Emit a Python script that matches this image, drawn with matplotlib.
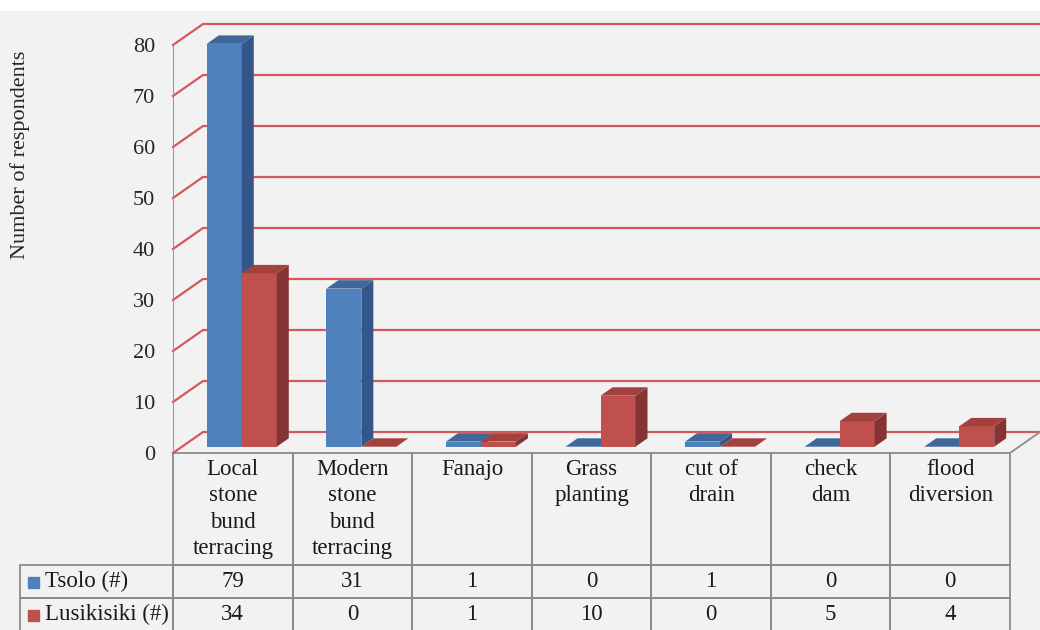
import matplotlib
matplotlib.use("Agg")
import matplotlib.pyplot as plt
from matplotlib.patches import Polygon, Rectangle

plt.rcParams['font.family'] = ['Liberation Serif', 'DejaVu Sans']

# data
categories = ["Local\nstone\nbund\nterracing", "Modern\nstone\nbund\nterracing",
              "Fanajo", "Grass\nplanting", "cut of\ndrain", "check\ndam",
              "flood\ndiversion"]
series_names = ["Tsolo (#)", "Lusikisiki (#)"]
tsolo = [79, 31, 1, 0, 1, 0, 0]
lusikisiki = [34, 0, 1, 10, 0, 5, 4]
yticks = [0, 10, 20, 30, 40, 50, 60, 70, 80]

front_colors = ["#4f81bd", "#c0504d"]
side_colors = ["#34568a", "#843432"]
top_colors = ["#3f679a", "#a3413e"]
grid_color = "#d4585c"
line_gray = "#8c8c8c"
bg = "#f2f2f2"

W, H = 1040, 630
fig = plt.figure(figsize=(W / 100, H / 100), dpi=100, facecolor=bg)
fig.patches.append(Rectangle((0, 1 - 10 / H), 1, 10 / H, transform=fig.transFigure,
                             color="white", zorder=0))

# layout (pixels)
ax_l, ax_r, ax_t, ax_b = 173, 1040, 23, 453
plot_r = 1010
top80 = 45
ax = fig.add_axes([ax_l / W, 1 - ax_b / H, (ax_r - ax_l) / W, (ax_b - ax_t) / H])
ax.patch.set_visible(False)
for s in ax.spines.values():
    s.set_visible(False)

n = len(categories)
cat_px = (plot_r - ax_l) / n
px_unit = (ax_b - top80) / 80
xmax = -0.5 + (ax_r - ax_l) / cat_px
ymax = (ax_b - ax_t) / px_unit
ax.set_xlim(-0.5, xmax)
ax.set_ylim(0, ymax)
depth_x = 30 / cat_px
depth_y = 21 / px_unit

# back wall gridlines
for v in yticks:
    ax.plot([-0.5, -0.5 + depth_x, xmax], [v, v + depth_y, v + depth_y],
            color=grid_color, lw=1.6, clip_on=False, zorder=1)
ax.plot([-0.5, -0.5], [0, 80], color=line_gray, lw=1.3, zorder=2)
ax.plot([n - 0.5, n - 0.5 + depth_x], [0, depth_y], color=line_gray, lw=1.3, zorder=2)

# 3d bars
bw = 35 / cat_px
f0, f1 = 0.3, 0.7
offx, offy = f0 * depth_x, f0 * depth_y
ddx, ddy = (f1 - f0) * depth_x, (f1 - f0) * depth_y
for j, vals in enumerate([tsolo, lusikisiki]):
    z = 3 + j
    xs = [i - bw + j * bw + offx for i in range(n)]
    ax.bar(xs, vals, width=bw, bottom=offy, align='edge', color=front_colors[j],
           zorder=z, linewidth=0)
    for x0, v in zip(xs, vals):
        x1 = x0 + bw
        b = offy
        side = Polygon([(x1, b), (x1 + ddx, b + ddy), (x1 + ddx, b + v + ddy), (x1, b + v)],
                       closed=True, facecolor=side_colors[j], edgecolor='none', zorder=z)
        top = Polygon([(x0, b + v), (x1, b + v), (x1 + ddx, b + v + ddy), (x0 + ddx, b + v + ddy)],
                      closed=True, facecolor=top_colors[j], edgecolor='none', zorder=z)
        ax.add_patch(side)
        ax.add_patch(top)

ax.set_xticks([])
ax.set_yticks(yticks)
ax.tick_params(axis='y', length=0, pad=13, labelsize=16, labelcolor="#262626")

fig.text(20 / W, 1 - 155 / H, "Number of respondents", rotation=90,
         ha='center', va='center', fontsize=16, color="#262626")

# data table: first column holds the series names, top-left cell left open
tbl_l = 20
lbl_px = ax_l - tbl_l
head_px = 112
row_px = 33
tbl_h = head_px + 2 * row_px
col_labels = [""] + [c + "\n" * (3 - c.count("\n")) for c in categories]
cell_text = [[series_names[0]] + [str(v) for v in tsolo],
             [series_names[1]] + [str(v) for v in lusikisiki]]
bbox = [(tbl_l - ax_l) / (ax_r - ax_l), -tbl_h / (ax_b - ax_t),
        (plot_r - tbl_l) / (ax_r - ax_l), tbl_h / (ax_b - ax_t)]
tbl = ax.table(cellText=cell_text, colLabels=col_labels,
               cellLoc='center', colLoc='center', bbox=bbox)
tbl.auto_set_font_size(False)
tbl.set_fontsize(16.5)
for (r, c), cell in tbl.get_celld().items():
    cell.set_width(lbl_px if c == 0 else cat_px)
    cell.set_height(head_px if r == 0 else row_px)
    cell.set_facecolor('none')
    cell.set_edgecolor(line_gray)
    cell.set_linewidth(1.3)
    cell.get_text().set_color("#1a1a1a")
    if r == 0:
        cell.get_text().set_linespacing(1.33)
    if c == 0:
        cell.get_text().set_horizontalalignment('left')
        cell.PAD = (45 - tbl_l) / lbl_px
tbl[0, 0].visible_edges = 'open'

for j in range(2):
    yc = ax_b + head_px + row_px * (j + 0.5)
    fig.patches.append(Rectangle((28 / W, 1 - (yc + 6) / H), 11 / W, 11 / H,
                                 transform=fig.transFigure, color=front_colors[j]))

fig.savefig("out.png", dpi=100, facecolor=fig.get_facecolor())
